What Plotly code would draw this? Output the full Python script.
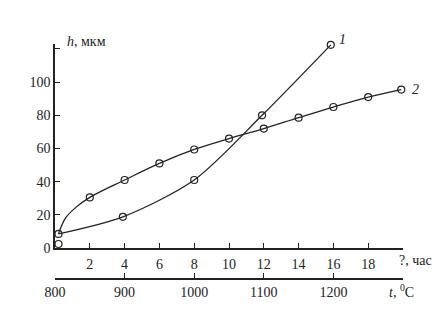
import plotly.graph_objects as go

# Curve 1 (markers and smooth line), time in hours, h in microns
c1_t = [0.2, 3.9, 8.0, 11.9, 15.85]
c1_h = [8.5, 18.8, 41.0, 80.0, 122.5]

# Curve 2 markers
c2_t = [0.2, 2.0, 4.0, 6.0, 8.0, 10.0, 12.0, 14.0, 16.0, 18.0, 19.9]
c2_h = [2.4, 30.5, 41.0, 51.0, 59.4, 66.0, 72.0, 78.6, 85.0, 91.0, 95.5]
# Curve 2 drawn line
c2_line_t = [0.2, 0.6, 1.2, 2.0, 4.0, 6.0, 8.0, 10.0, 12.0, 14.0, 16.0, 18.0, 19.9]
c2_line_h = [8.5, 18.0, 24.5, 30.5, 41.0, 51.0, 59.4, 66.0, 72.0, 78.6, 85.0, 91.0, 95.5]

time_ticks = [2, 4, 6, 8, 10, 12, 14, 16, 18, 20]
time_labels = ["2", "4", "6", "8", "10", "12", "14", "16", "18", ""]
temp_ticks = [800, 900, 1000, 1100, 1200, 1300]
temp_labels = ["800", "900", "1000", "1100", "1200", ""]
h_ticks = [0, 20, 40, 60, 80, 100, 120]
h_labels = ["0", "20", "40", "60", "80", "100", ""]

INK = "#222222"
FONT = "Liberation Serif, Times New Roman, serif"

W, H = 446, 336
l, r, t, b = 55, 43, 44, 57
pw, ph = W - l - r, H - t - b

fig = go.Figure()
fig.add_trace(go.Scatter(x=c1_t, y=c1_h, mode="lines+markers",
                         line=dict(color=INK, width=1.3, shape="spline", smoothing=0.8),
                         marker=dict(symbol="circle-open", size=7, color=INK, line=dict(width=1.2)),
                         cliponaxis=False, showlegend=False))
fig.add_trace(go.Scatter(x=c2_line_t, y=c2_line_h, mode="lines",
                         line=dict(color=INK, width=1.3, shape="spline", smoothing=1.0),
                         cliponaxis=False, showlegend=False))
fig.add_trace(go.Scatter(x=c2_t, y=c2_h, mode="markers",
                         marker=dict(symbol="circle-open", size=7, color=INK, line=dict(width=1.2)),
                         cliponaxis=False, showlegend=False))
# invisible trace to activate temperature axis
fig.add_trace(go.Scatter(x=[temp_ticks[0], temp_ticks[-1]], y=[None, None], xaxis="x2",
                         mode="markers", showlegend=False, hoverinfo="skip"))

ydom0 = (279 - 248) / (279 - t)

fig.update_layout(
    width=W, height=H,
    margin=dict(l=l, r=r, t=t, b=b),
    paper_bgcolor="white", plot_bgcolor="white",
    font=dict(family=FONT, size=14, color=INK),
    xaxis=dict(range=[0, 20], tickvals=time_ticks, ticktext=time_labels,
               ticks="inside", ticklen=5, tickwidth=1.3, tickcolor=INK,
               showline=True, linecolor=INK, linewidth=1.5, showgrid=False, zeroline=False,
               anchor="y", ticklabelstandoff=2),
    xaxis2=dict(range=[800, 1300], tickvals=temp_ticks, ticktext=temp_labels,
                overlaying="x", anchor="free", position=0, side="bottom",
                ticks="inside", ticklen=5, tickwidth=1.3, tickcolor=INK,
                showline=True, linecolor=INK, linewidth=1.5, showgrid=False, zeroline=False),
    yaxis=dict(range=[0, 123], domain=[ydom0, 1], tickvals=h_ticks, ticktext=h_labels,
               ticks="inside", ticklen=5, tickwidth=1.3, tickcolor=INK,
               showline=True, linecolor=INK, linewidth=1.5, showgrid=False, zeroline=False),
)

anns = [
    dict(x=65, y=41, text="<i>h</i>, мкм", xanchor="left"),
    dict(x=397, y=260, text="?, час", xanchor="left"),
    dict(x=387, y=291, text="<i>t</i>, <sup>0</sup>C", xanchor="left"),
    dict(x=337, y=40, text="<i>1</i>", xanchor="left"),
    dict(x=410, y=89, text="<i>2</i>", xanchor="left"),
]
for a in anns:
    fig.add_annotation(x=(a["x"] - l) / pw, y=((H - a["y"]) - b) / ph, xref="paper", yref="paper",
                       text=a["text"], xanchor=a["xanchor"], yanchor="middle",
                       showarrow=False, font=dict(family=FONT, size=14, color=INK))

fig.write_html("out.html")
